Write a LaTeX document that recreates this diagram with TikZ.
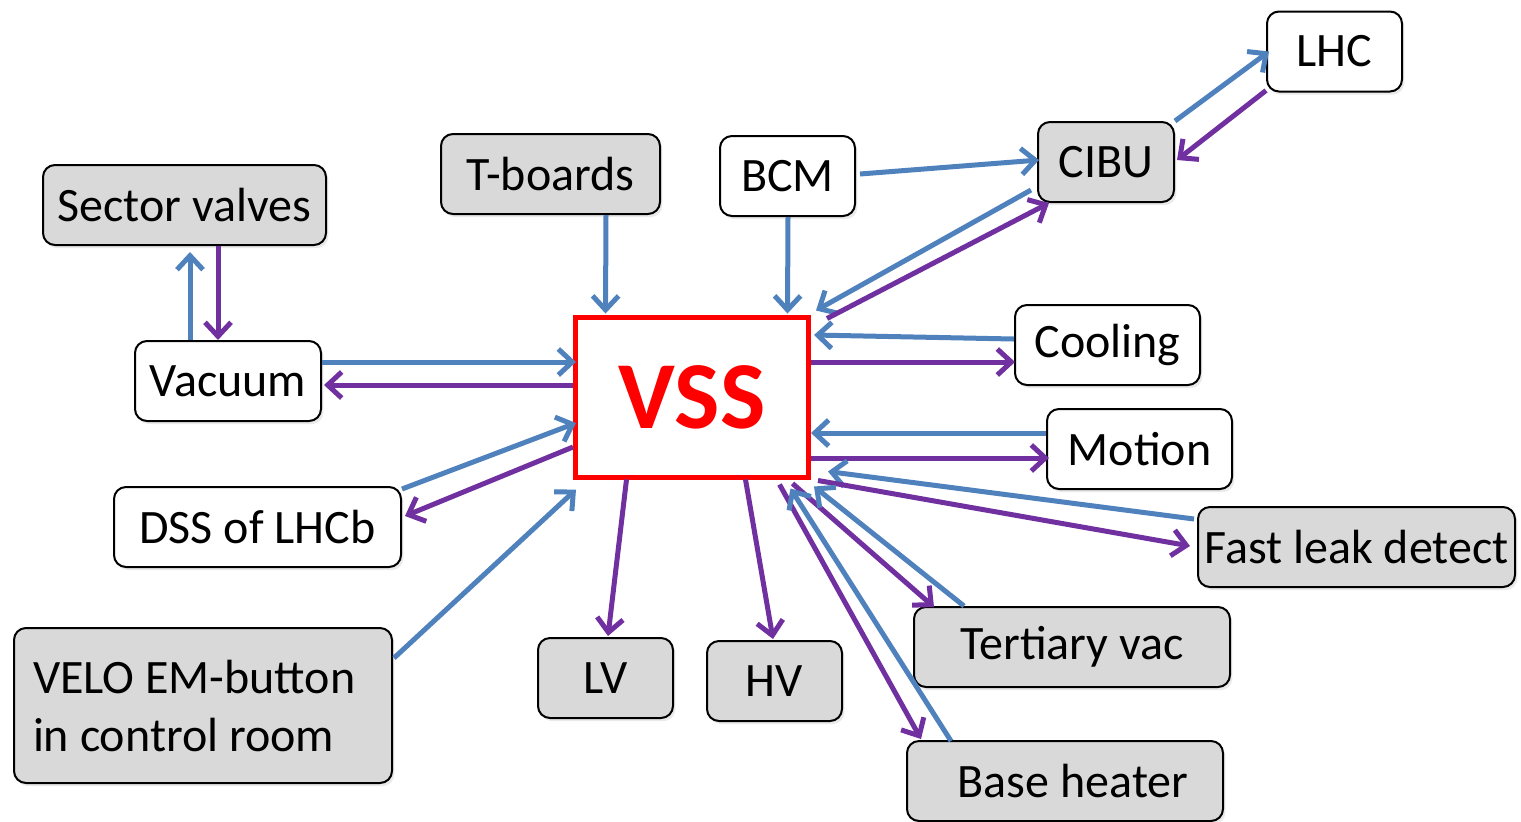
\documentclass[tikz,border=0pt]{standalone}
\usepackage{fontspec}
\setmainfont{Carlito}
\usepackage{xcolor}
\usepackage{tikz}
\usetikzlibrary{arrows.meta,calc,shadows}

\definecolor{sigblue}{HTML}{4F81BD}
\definecolor{sigpurple}{HTML}{7030A0}
\definecolor{boxgrey}{HTML}{D9D9D9}

\begin{document}
\begin{tikzpicture}[
    x=0.5pt, y=-0.5pt,
    box/.style={draw, line width=1pt, rounded corners=6pt, minimum height=40pt, inner xsep=2pt,
        font=\fontsize{24pt}{29pt}\selectfont,
        drop shadow={shadow xshift=1.2pt, shadow yshift=-1.6pt, fill=black!16}},
    greybox/.style={box, fill=boxgrey},
    plainbox/.style={box, fill=white},
    link/.style={line width=2.5pt, -{Straight Barb[length=7pt, width=13pt]}},
    bluearrow/.style={link, sigblue},
    purplearrow/.style={link, sigpurple}
]
    \useasboundingbox (0,0) rectangle (1521,821);

    \node[draw=red, line width=2.5pt, fill=white, minimum width=116.5pt, minimum height=80pt,
        text=red, font=\fontsize{48pt}{50pt}\selectfont\bfseries] (vss) at (692,397) {VSS};

    \node[plainbox, minimum width=67.5pt] (lhc) at (1334.5,51.5) {LHC};
    \node[greybox, minimum width=68pt] (cibu) at (1106,162) {CIBU};
    \node[plainbox, minimum width=67.5pt] (bcm) at (787.5,176) {BCM};
    \node[greybox, minimum width=109.5pt] (tboards) at (550.5,174) {T-boards};
    \node[greybox, minimum width=141.5pt] (sector) at (184.5,205) {Sector valves};
    \node[plainbox, minimum width=93pt] (vacuum) at (228,381) {Vacuum};
    \node[plainbox, minimum width=92.5pt] (cooling) at (1107.5,345) {Cooling};
    \node[plainbox, minimum width=92.5pt] (motion) at (1139.5,449) {Motion};
    \node[greybox, minimum width=158.5pt] (leak) at (1356.5,547) {Fast leak detect};
    \node[plainbox, minimum width=143.5pt] (dss) at (257.5,527) {DSS of LHCb};
    \node[greybox, minimum height=77.5pt, inner xsep=9.5pt, text width=170pt, align=flush left]
        (velo) at (203,705.5) {VELO EM-button\\in control room};
    \node[greybox, minimum width=67.5pt] (lv) at (605.5,678) {LV};
    \node[greybox, minimum width=67.5pt] (hv) at (774.5,681) {HV};
    \node[greybox, minimum width=158pt] (tertiary) at (1072,647) {Tertiary vac};
    \node[greybox, minimum width=158pt] (heater) at (1065,781) {\hspace*{8pt}Base heater};

    % left side
    \draw[bluearrow] ($(vacuum.north)+(-38,0)$) -- ($(sector.south)+(5.5,6)$);
    \draw[purplearrow] ($(sector.south)+(33.5,0)$) -- ($(vacuum.north)+(-10,0)$);
    \draw[bluearrow] ($(vacuum.east)+(0,-19)$) -- ($(vss.west)+(3,-35)$);
    \draw[purplearrow] ($(vss.west)+(0,-12)$) -- ($(vacuum.east)+(2,4)$);
    \draw[bluearrow] ($(dss.north east)+(0,3)$) -- ($(vss.west)+(3,26)$);
    \draw[purplearrow] ($(vss.west)+(0,50)$) -- ($(dss.east)+(3,-11)$);
    \draw[bluearrow] ($(velo.east)+(1,-47.5)$) -- ($(vss.south west)+(3,10)$);

    % top
    \draw[bluearrow] ($(tboards.south)+(55.5,0)$) -- ($(vss.north)+(-86.5,-1)$);
    \draw[bluearrow] ($(bcm.south)+(0.5,0)$) -- ($(vss.north)+(95.5,-1)$);
    \draw[bluearrow] ($(bcm.east)+(4,-2)$) -- ($(cibu.west)+(2,-2)$);
    \draw[bluearrow] (cibu.north east) -- ($(lhc.west)+(3,0)$);
    \draw[purplearrow] ($(lhc.south west)+(0,-2)$) -- ($(cibu.east)+(2,-2)$);
    \draw[bluearrow] ($(cibu.west)+(-6,28)$) -- ($(vss.north east)+(5,-4)$);
    \draw[purplearrow] ($(vss.north east)+(16,4)$) -- ($(cibu.south west)+(12,0)$);

    % right side
    \draw[bluearrow] ($(cooling.west)+(0,-6)$) -- ($(vss.east)+(3,-62)$);
    \draw[purplearrow] ($(vss.east)+(0,-35)$) -- ($(cooling.west)+(1,17)$);
    \draw[bluearrow] ($(motion.west)+(0,-16)$) -- ($(vss.east)+(0,36)$);
    \draw[purplearrow] ($(vss.east)+(0,61)$) -- ($(motion.west)+(3,9)$);
    \draw[bluearrow] ($(leak.west)+(-3,-28)$) -- ($(vss.south east)+(17,-8)$);
    \draw[purplearrow] ($(vss.south east)+(7,1)$) -- ($(leak.west)+(-7,-1)$);

    % bottom
    \draw[purplearrow] ($(vss.south)+(-65.5,0)$) -- ($(lv.north)+(2.5,-1)$);
    \draw[purplearrow] ($(vss.south)+(53.5,0)$) -- ($(hv.north)+(-1.5,-1)$);
    \draw[purplearrow] ($(vss.south)+(100.5,4)$) -- ($(tertiary.north west)+(21,1)$);
    \draw[bluearrow] ($(tertiary.north west)+(51,0)$) -- ($(vss.south east)+(3,7)$);
    \draw[purplearrow] ($(vss.south)+(87.5,5)$) -- ($(heater.north west)+(15,-1)$);
    \draw[bluearrow] ($(heater.north west)+(45,1)$) -- ($(vss.south)+(98.5,9)$);
\end{tikzpicture}
\end{document}
